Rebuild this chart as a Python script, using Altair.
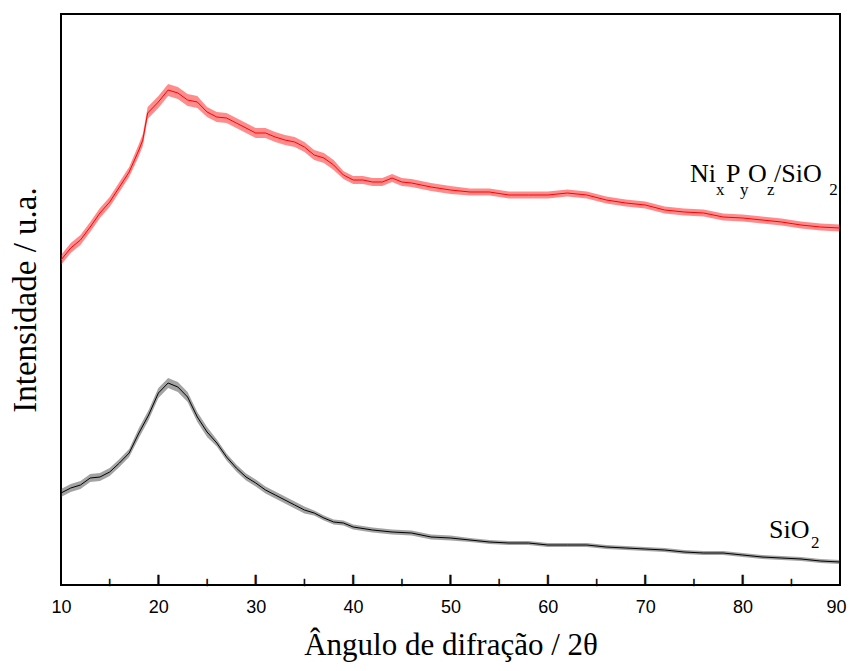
import altair as alt
import pandas as pd

# --- data (intensity in arbitrary units) ---
red_deg = [10, 11, 12, 13, 14, 15, 16, 17, 18, 18.4, 18.9, 20, 21, 22, 23, 24, 25, 26, 27, 28, 29, 30,
           31, 32, 33, 34, 35, 36, 37, 38, 39, 40, 41, 42, 43, 44, 45, 46, 47, 48, 50, 52, 54, 56, 58,
           60, 62, 64, 66, 68, 70, 72, 74, 76, 78, 80, 82, 84, 86, 88, 90]
red_int = [325, 337, 345, 358, 372, 383, 398, 413, 435, 445, 472, 483, 495, 492, 485, 483, 473, 468, 467,
           462, 457, 452, 452, 448, 445, 443, 438, 430, 427, 420, 410, 405, 405, 403, 403, 407, 403, 402,
           400, 398, 395, 393, 393, 390, 390, 390, 392, 390, 385, 382, 380, 375, 373, 372, 368, 367, 365,
           363, 360, 358, 357]
red_spread = [5, 5, 5, 5, 5, 5, 5, 5, 6, 6, 6, 6, 6, 6, 6, 6, 5, 5, 5, 5, 5, 5, 5, 5, 5, 5, 5, 5, 5, 5,
              4, 4, 4, 4, 4, 4, 4, 4, 4, 4, 4, 3.5, 3.5, 3.5, 3.5, 3.5, 3.5, 3.5, 3.5, 3.5, 3.5, 3.5, 3.5,
              3.5, 3.5, 3.5, 3.5, 3.5, 3.5, 3.5, 3.5]

blk_deg = [10, 11, 12, 13, 14, 15, 16, 17, 18, 19, 20, 21, 22, 23, 24, 25, 26, 27, 28, 29, 30, 31, 32,
           33, 34, 35, 36, 37, 38, 39, 40, 42, 44, 46, 48, 50, 52, 54, 56, 58, 60, 62, 64, 66, 68, 70,
           72, 74, 76, 78, 80, 82, 84, 86, 88, 90]
blk_int = [92, 97, 100, 107, 108, 113, 122, 132, 152, 170, 192, 202, 198, 188, 168, 153, 142, 128, 117,
           108, 102, 95, 90, 85, 80, 75, 72, 67, 63, 62, 58, 55, 53, 52, 48, 47, 45, 43, 42, 42, 40, 40,
           40, 38, 37, 36, 35, 33, 32, 32, 30, 28, 27, 26, 24, 23]
blk_spread = [4, 4, 4, 4, 4, 4, 4, 4, 5, 5, 5, 5, 5, 5, 5, 5, 3.5, 3.5, 3.5, 3.5, 3.5, 3.5, 3.5, 3.5,
              3.5, 3.5, 2.5, 2.5, 2.5, 2.5, 2.5, 2.5, 2.5, 2.5, 2.5, 2.5, 2, 2, 2, 2, 2, 2, 2, 2, 2, 2,
              2, 2, 2, 2, 2, 2, 2, 2, 2, 2]

major_ticks = [10, 20, 30, 40, 50, 60, 70, 80, 90]
inner_major = [20, 30, 40, 50, 60, 70, 80]
minor_ticks = [15, 25, 35, 45, 55, 65, 75, 85]

label_text = ["Ni", "x", "P", "y", "O", "z", "/SiO", "2", "SiO", "2"]
label_deg = [74.60, 77.27, 78.30, 79.73, 80.55, 82.50, 83.22, 88.90, 82.71, 87.02]
label_int = [403, 390, 403, 390, 403, 390, 403, 390, 47, 37]
label_fs = [26, 17, 26, 17, 26, 17, 26, 17, 26, 17]

X_TITLE = "Ângulo de difração / 2θ"
Y_TITLE = "Intensidade / u.a."
W, H = 779, 571
MAJOR_LEN, MINOR_LEN = 11, 6


def band_frame(deg, inten, spread):
    return pd.DataFrame({
        "deg": deg, "i": inten,
        "lo": [a - s for a, s in zip(inten, spread)],
        "hi": [a + s for a, s in zip(inten, spread)],
    })


red = band_frame(red_deg, red_int, red_spread)
blk = band_frame(blk_deg, blk_int, blk_spread)
labels = pd.DataFrame({"t": label_text, "deg": label_deg, "i": label_int, "fs": label_fs})

# inward ticks drawn as "|" glyphs (glyph spans ~0.94 em, 0.21 em below the baseline)
tick_x = [float(v) for v in inner_major + minor_ticks]
tick_len = [MAJOR_LEN] * len(inner_major) + [MINOR_LEN] * len(minor_ticks)
tick_fs = [L / 0.94 for L in tick_len]
tick_df = pd.DataFrame({
    "deg": tick_x,
    "i": [0.21 * f for f in tick_fs],
    "fs": tick_fs,
})

xs = alt.Scale(domain=[10, 90], nice=False, zero=False, padding=0)
ys = alt.Scale(domain=[0, H], nice=False, zero=False)


def X(field="deg"):
    return alt.X(f"{field}:Q", scale=xs, title=X_TITLE,
                 axis=alt.Axis(values=major_ticks, format="d"))


def Y(field):
    return alt.Y(f"{field}:Q", scale=ys, title=Y_TITLE)


red_band = alt.Chart(red).mark_area(color="#ff0000", opacity=0.45).encode(
    x=X(), y=Y("lo"), y2="hi:Q")
red_line = alt.Chart(red).mark_line(color="#ff0000", strokeWidth=1).encode(x=X(), y=Y("i"))
blk_band = alt.Chart(blk).mark_area(color="#333333", opacity=0.45).encode(
    x=X(), y=Y("lo"), y2="hi:Q")
blk_line = alt.Chart(blk).mark_line(color="#000000", strokeWidth=1).encode(x=X(), y=Y("i"))

txt = alt.Chart(labels).mark_text(
    align="left", baseline="alphabetic", font="Liberation Serif", color="black").encode(
    x=X(), y=Y("i"), text="t:N", size=alt.Size("fs:Q", scale=None, legend=None))

tick_glyphs = alt.Chart(tick_df).mark_text(
    text="|", align="center", baseline="alphabetic", font="Liberation Sans",
    fontWeight="bold", color="black", stroke="black", strokeWidth=0.6).encode(
    x=X(), y=Y("i"), size=alt.Size("fs:Q", scale=None, legend=None))

chart = alt.layer(red_band, red_line, blk_band, blk_line, txt, tick_glyphs).properties(
    width=W, height=H,
    autosize=alt.AutoSizeParams(type="none"),
    padding={"left": 53, "top": 6, "right": 7, "bottom": 78},
).configure_view(
    stroke="black", strokeWidth=2
).configure_axisX(
    ticks=False, domain=False, grid=False, labelFlush=False,
    labelFont="Liberation Sans", labelFontSize=18, labelColor="black", labelPadding=13,
    labelOffset={"condition": {"test": "datum.value === 90", "value": -4}, "value": 0},
    titleFont="Liberation Serif", titleFontSize=31, titleFontWeight="normal",
    titleColor="black", titlePadding=14,
).configure_axisY(
    ticks=False, domain=False, grid=False, labels=False,
    titleFont="Liberation Serif", titleFontSize=33, titleFontWeight="normal",
    titleColor="black", titlePadding=19,
)

chart.save("out.html", embed_options={"renderer": "svg", "actions": False})
